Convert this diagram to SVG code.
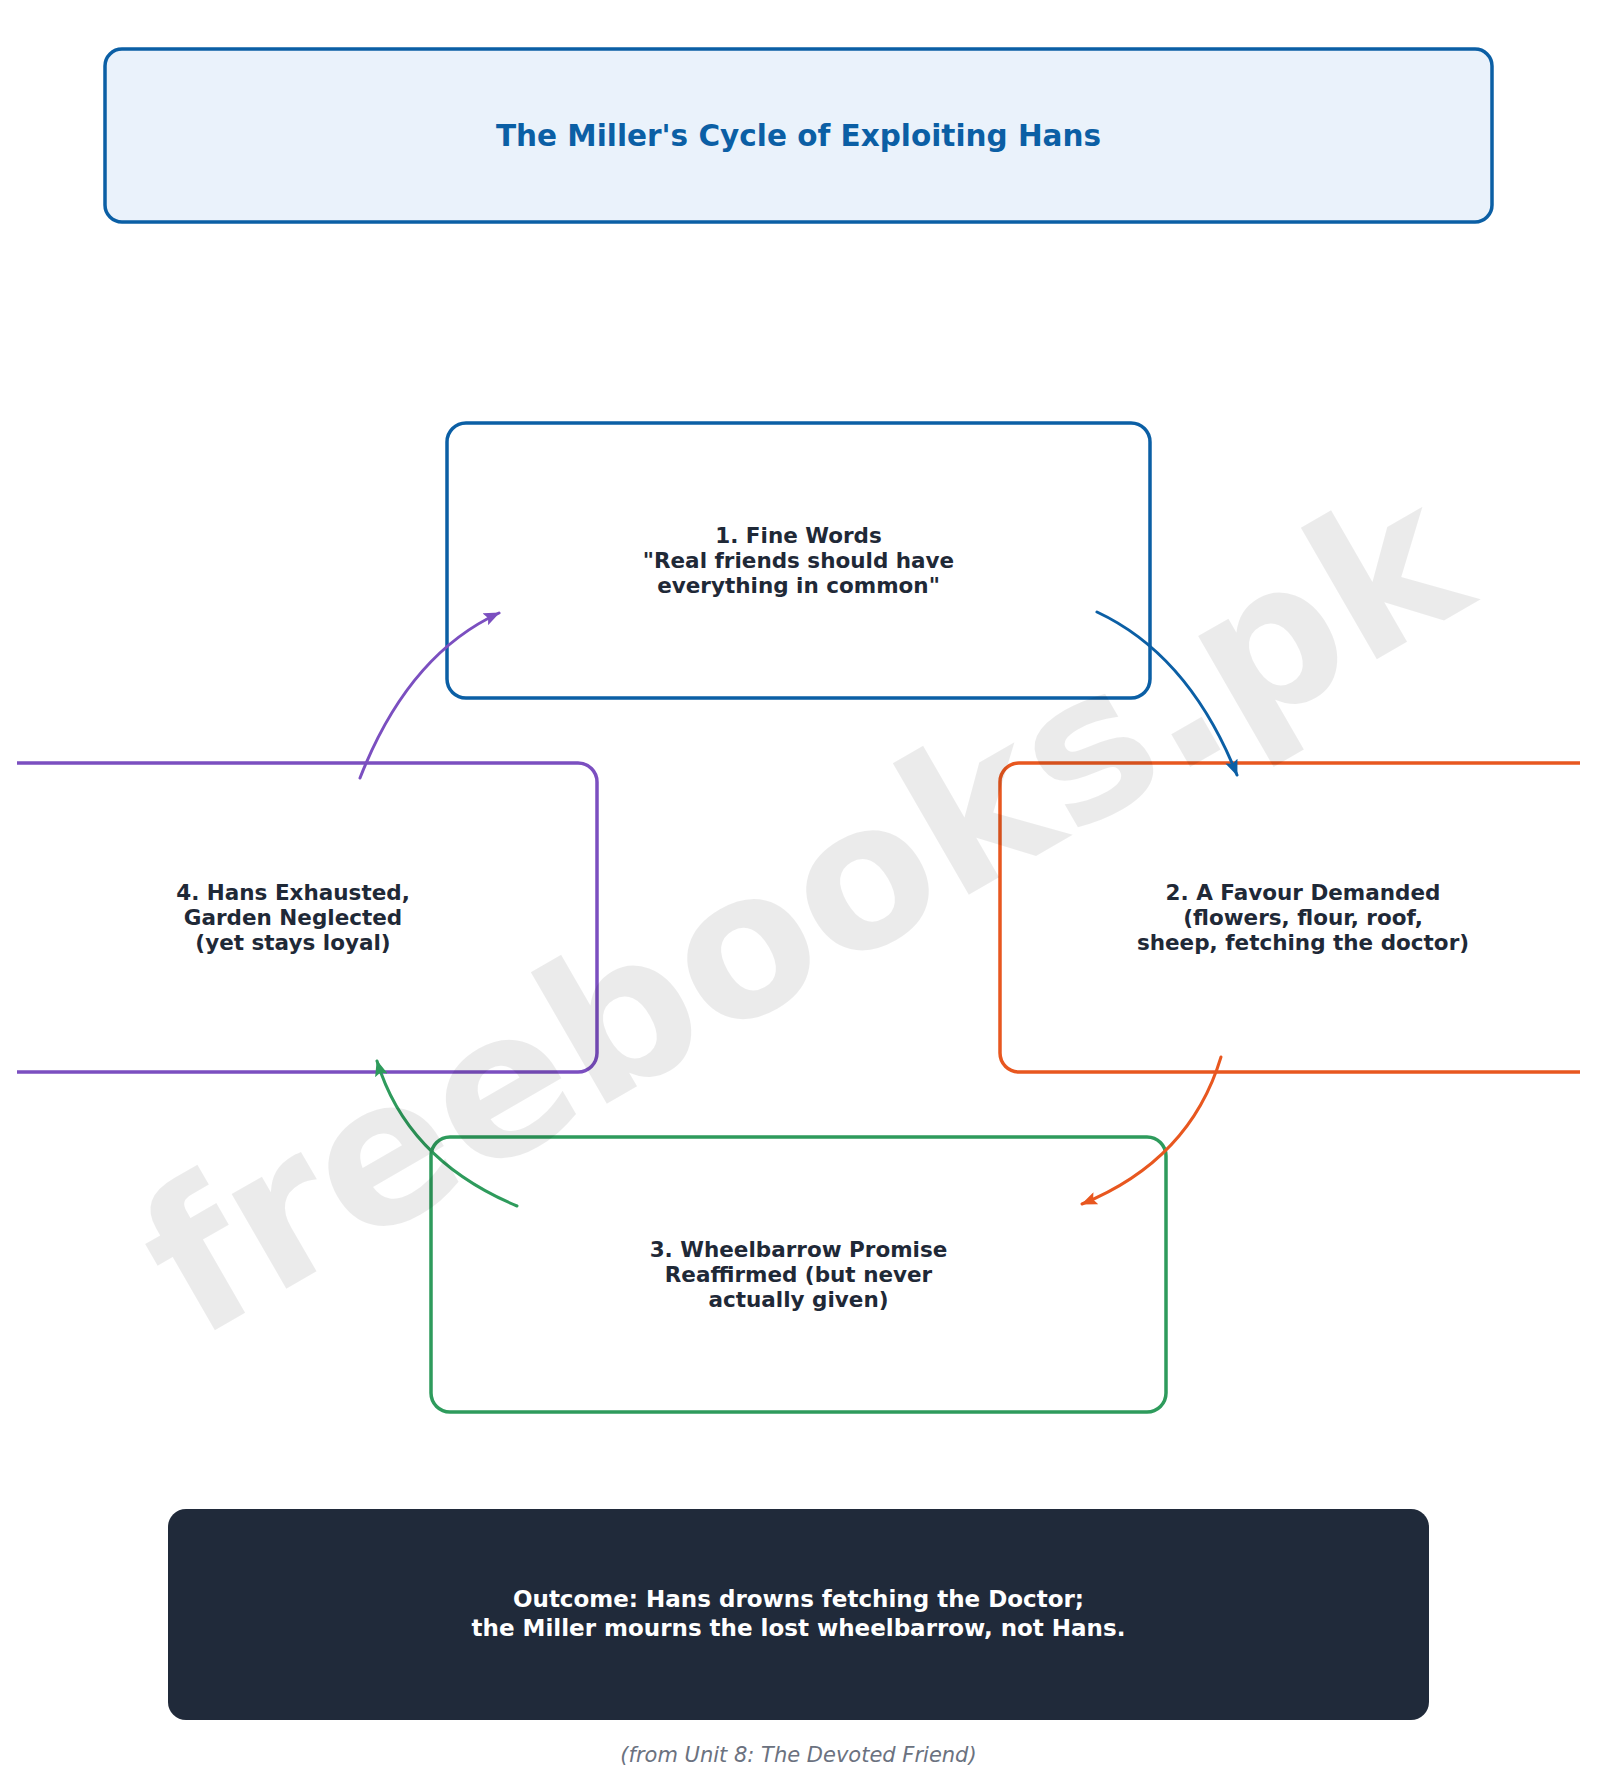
<svg xmlns="http://www.w3.org/2000/svg" width="1597" height="1783" viewBox="0 0 1597 1783">
  <style>
    .node { fill: #ffffff; stroke-width: 3.5; }
    .lbl { font-family: "DejaVu Sans", "Liberation Sans", sans-serif; font-weight: bold; font-size: 21.5px; fill: #1f2937; text-anchor: middle; }
    .conn { fill: none; stroke-width: 3; stroke-linecap: round; }
  </style>
  <defs>
    <clipPath id="view">
      <rect x="17" y="0" width="1563" height="1783"/>
    </clipPath>
    <marker id="ah-blue" viewBox="0 0 16 13" markerWidth="16" markerHeight="13" refX="15" refY="6.5" orient="auto" markerUnits="userSpaceOnUse">
      <path d="M0,0 L16,6.5 L0,13 L3,6.5 Z" fill="#0b5fa5"/>
    </marker>
    <marker id="ah-orange" viewBox="0 0 16 13" markerWidth="16" markerHeight="13" refX="15" refY="6.5" orient="auto" markerUnits="userSpaceOnUse">
      <path d="M0,0 L16,6.5 L0,13 L3,6.5 Z" fill="#e8571f"/>
    </marker>
    <marker id="ah-green" viewBox="0 0 16 13" markerWidth="16" markerHeight="13" refX="15" refY="6.5" orient="auto" markerUnits="userSpaceOnUse">
      <path d="M0,0 L16,6.5 L0,13 L3,6.5 Z" fill="#2e9b5c"/>
    </marker>
    <marker id="ah-purple" viewBox="0 0 16 13" markerWidth="16" markerHeight="13" refX="15" refY="6.5" orient="auto" markerUnits="userSpaceOnUse">
      <path d="M0,0 L16,6.5 L0,13 L3,6.5 Z" fill="#7b4fc0"/>
    </marker>
  </defs>

  <rect x="0" y="0" width="1597" height="1783" fill="#ffffff"/>

  <g id="title">
    <rect x="105" y="49" width="1387" height="173" rx="17" fill="#eaf2fb" stroke="#0b5fa5" stroke-width="3.5"/>
    <text x="798.5" y="146" font-family="DejaVu Sans, Liberation Sans, sans-serif" font-weight="bold" font-size="29.5" fill="#0b5fa5" text-anchor="middle">The Miller's Cycle of Exploiting Hans</text>
  </g>

  <g id="node1">
    <rect class="node" x="447" y="423" width="703" height="275" rx="19" stroke="#0b5fa5"/>
    <text class="lbl" x="798.5" y="543">1. Fine Words</text>
    <text class="lbl" x="798.5" y="568">"Real friends should have</text>
    <text class="lbl" x="798.5" y="593">everything in common"</text>
  </g>

  <g id="node2" clip-path="url(#view)">
    <rect class="node" x="1000" y="763" width="606" height="309" rx="19" stroke="#e8571f"/>
    <text class="lbl" x="1303" y="900">2. A Favour Demanded</text>
    <text class="lbl" x="1303" y="925">(flowers, flour, roof,</text>
    <text class="lbl" x="1303" y="950">sheep, fetching the doctor)</text>
  </g>

  <g id="node3">
    <rect class="node" x="431" y="1137" width="735" height="275" rx="19" stroke="#2e9b5c"/>
    <text class="lbl" x="798.5" y="1257">3. Wheelbarrow Promise</text>
    <text class="lbl" x="798.5" y="1282">Reaffirmed (but never</text>
    <text class="lbl" x="798.5" y="1307">actually given)</text>
  </g>

  <g id="node4" clip-path="url(#view)">
    <rect class="node" x="-11" y="763" width="608" height="309" rx="19" stroke="#7b4fc0"/>
    <text class="lbl" x="293" y="900">4. Hans Exhausted,</text>
    <text class="lbl" x="293" y="925">Garden Neglected</text>
    <text class="lbl" x="293" y="950">(yet stays loyal)</text>
  </g>

  <g id="connectors">
    <path class="conn" d="M1097,612 Q1189,655 1237,775" stroke="#0b5fa5" marker-end="url(#ah-blue)"/>
    <path class="conn" d="M1221,1057 Q1190,1160 1082,1204" stroke="#e8571f" marker-end="url(#ah-orange)"/>
    <path class="conn" d="M517,1206 Q407,1160 377,1061" stroke="#2e9b5c" marker-end="url(#ah-green)"/>
    <path class="conn" d="M360,778 Q408,655 499,613" stroke="#7b4fc0" marker-end="url(#ah-purple)"/>
  </g>

  <g id="outcome">
    <rect x="168" y="1509" width="1261" height="211" rx="18" fill="#202a3a"/>
    <text x="798.5" y="1607" font-family="DejaVu Sans, Liberation Sans, sans-serif" font-weight="bold" font-size="23" fill="#ffffff" text-anchor="middle">Outcome: Hans drowns fetching the Doctor;</text>
    <text x="798.5" y="1636" font-family="DejaVu Sans, Liberation Sans, sans-serif" font-weight="bold" font-size="23" fill="#ffffff" text-anchor="middle">the Miller mourns the lost wheelbarrow, not Hans.</text>
  </g>

  <g id="footer">
    <text x="798.5" y="1762" font-family="DejaVu Sans, Liberation Sans, sans-serif" font-style="italic" font-size="21" fill="#6b7280" text-anchor="middle">(from Unit 8: The Devoted Friend)</text>
  </g>

  <g id="watermark">
    <text x="837" y="971" transform="rotate(-30 837 971)" font-family="DejaVu Sans, Liberation Sans, sans-serif" font-weight="bold" font-size="200" fill="#000000" fill-opacity="0.08" text-anchor="middle">freebooks.pk</text>
  </g>
</svg>
